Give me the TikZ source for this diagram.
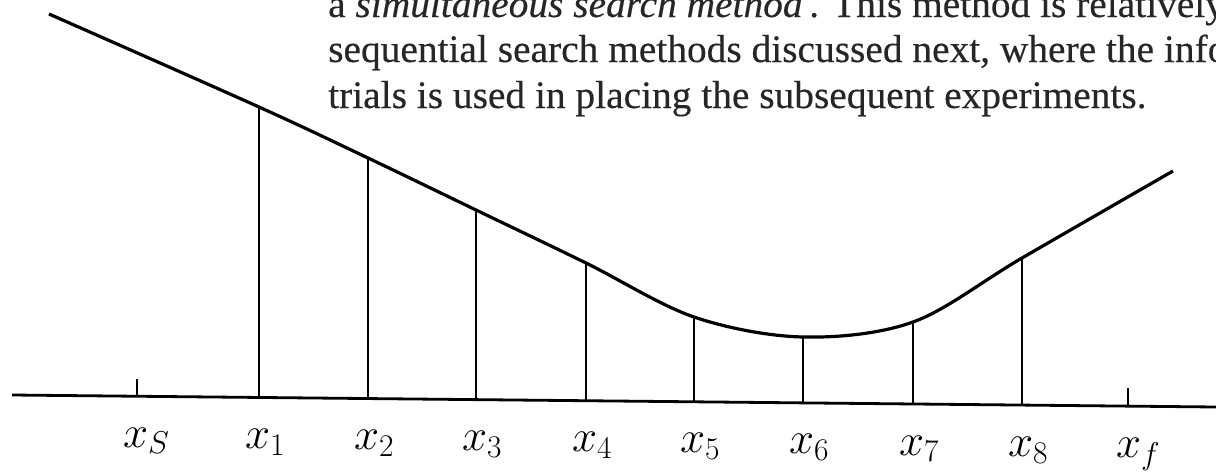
\RequirePackage{fix-cm}
\documentclass[tikz,border=0pt]{standalone}
\usepackage{fontspec}
\newfontfamily\bookfont[FakeBold=0.3,FakeStretch=1.01]{Liberation Serif}
\begin{document}
\begin{tikzpicture}[x=1pt,y=-1pt,
  curve/.style={line width=3.2pt},
  stem/.style={line width=2.4pt},
  axisline/.style={line width=2.8pt},
  lbl/.style={font=\fontsize{45}{50}\selectfont,anchor=base west,inner sep=0pt},
  para/.style={font=\bookfont\fontsize{39}{45}\selectfont,text=black!85,anchor=base west,inner sep=0pt}]
\useasboundingbox (0,0) rectangle (1216,474);
% text of the page behind the figure
\begin{scope}
\clip (0,0) rectangle (1216,474);
\node[para] (txta) at (328,17) {a \textit{simultaneous search method}\,. This method is relatively};
\node[para] (txtb) at (328,62) {sequential search methods discussed next, where the information};
\node[para] (txtc) at (328,108) {trials is used in placing the subsequent experiments.};
\end{scope}
% axis (slightly tilted, as scanned)
\coordinate (axl) at (12,395);
\coordinate (axr) at (1216,407);
\draw[axisline] (axl) -- (axr);
% function
\draw[curve] plot[smooth,tension=0.55] coordinates {(49,14) (259,107) (368,158) (476,210)
  (586,263) (694,317) (803,337) (913,322) (1022,258) (1173,171)};
% experiments
\foreach \xx/\yy/\n in {259/107/1,368/158/2,476/210/3,586/263/4,694/317/5,803/337/6,913/322/7,1022/258/8}{
  \draw[stem] (\xx,\yy) -- (\xx,{395+0.00997*(\xx-12)});
  \node[lbl] (l\n) at (\xx-14,{447+0.0105*(\xx-140)}) {$x_\n$};
}
% end points of the interval
\draw[stem] (137,379) -- (137,396.2);
\draw[stem] (1128,388) -- (1128,406.1);
\node[lbl] (ls) at (123,447) {$x_S$};
\node[lbl] (lf) at (1116,457.4) {$x_f$};
\end{tikzpicture}
\end{document}
